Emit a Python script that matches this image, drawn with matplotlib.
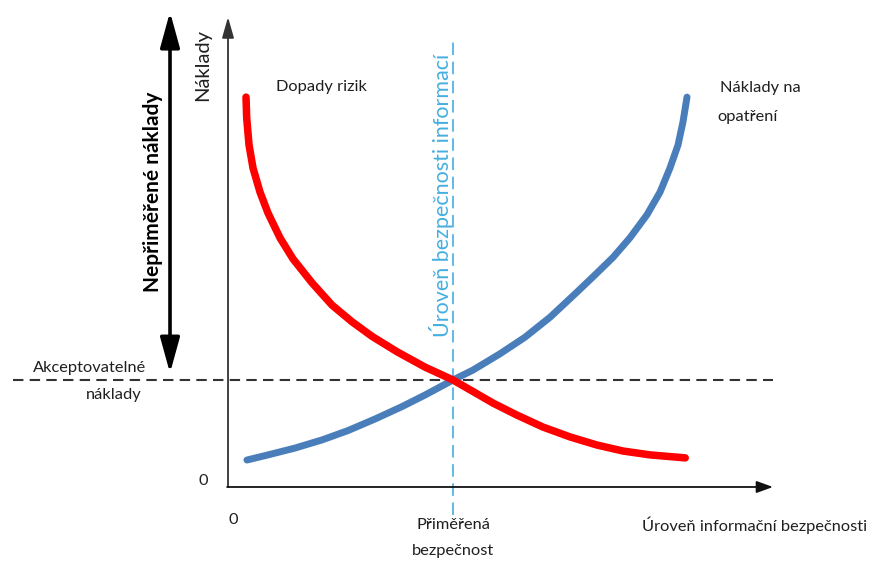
#!/usr/bin/env python

import matplotlib
matplotlib.use('Agg')
import matplotlib.pyplot as plt

################################################################################

# impact of risks (red) and cost of countermeasures (blue)
risk_x = [0.40, 0.415, 0.467, 0.556, 0.711, 0.889, 1.156, 1.444, 1.867, 2.311,
          2.756, 3.2, 3.756, 4.38, 5.0, 5.38, 5.89, 6.42, 7.0, 7.6, 8.2,
          8.78, 9.38, 10.16]
risk_y = [9.11, 8.62, 7.99, 7.45, 6.89, 6.40, 5.82, 5.33, 4.77, 4.25,
          3.86, 3.52, 3.16, 2.80, 2.5, 2.27, 1.96, 1.68, 1.40, 1.17, 0.98,
          0.84, 0.75, 0.68]

cost_x = [0.42, 0.89, 1.49, 2.09, 2.67, 3.27, 3.87, 4.38, 5.0, 5.44, 6.04,
          6.6, 7.16, 7.71, 8.11, 8.56, 8.93, 9.31, 9.6, 9.82, 10.0, 10.11,
          10.2]
cost_y = [0.63, 0.75, 0.91, 1.10, 1.32, 1.59, 1.88, 2.15, 2.5, 2.73, 3.11,
          3.50, 3.97, 4.51, 4.91, 5.37, 5.82, 6.36, 6.89, 7.45, 7.99, 8.53,
          9.11]

optimum_x = 5.0
acceptable_y = 2.5

################################################################################

text_c = '#1f1f1f'
cyan = '#45AEE0'
red = '#FF0000'
blue = '#4A7EBB'

plt.rcParams['font.family'] = ['Lato', 'DejaVu Sans']

fig = plt.figure(figsize=(8.69, 5.63), dpi=100)
ax = fig.add_axes([0, 0, 1, 1])
ax.set_xlim(-5.067, 14.244)
ax.set_ylim(-1.776, 11.379)
ax.axis('off')

# axes with arrow heads
ax.annotate('', xy=(0, 10.98), xytext=(0, 0),
            arrowprops=dict(arrowstyle='-|>,head_length=0.7,head_width=0.2',
                            lw=1.3, color='#333333', mutation_scale=18,
                            shrinkA=0, shrinkB=0))
ax.annotate('', xy=(12.11, 0), xytext=(-0.02, 0),
            arrowprops=dict(arrowstyle='-|>,head_length=0.55,head_width=0.2',
                            lw=1.3, color='#111111', mutation_scale=18,
                            shrinkA=0, shrinkB=0))

# "unreasonable cost" double arrow
ax.annotate('', xy=(-1.289, 11.1), xytext=(-1.289, 2.66),
            arrowprops=dict(arrowstyle='<|-|>,head_length=0.8,head_width=0.22',
                            lw=2.6, color='black', mutation_scale=27,
                            shrinkA=0, shrinkB=0))

ax.plot([-4.78, 12.11], [acceptable_y, acceptable_y], color='#333333',
        lw=1.5, dashes=(5, 3), zorder=1)
ax.plot([optimum_x, optimum_x], [-0.654, 10.44], color=cyan, lw=1.2,
        dashes=(7.5, 4), zorder=1)

ax.plot(cost_x, cost_y, color=blue, lw=5, solid_capstyle='round',
        solid_joinstyle='round', zorder=3)
ax.plot(risk_x, risk_y, color=red, lw=5.4, solid_capstyle='round',
        solid_joinstyle='round', zorder=4)

fs = 11.8
ax.text(-0.556, 9.85, 'Náklady', rotation=90, ha='center', va='center',
        fontsize=14.5, color=text_c)
ax.text(-1.667, 6.89, 'Nepřiměřené náklady', rotation=90, ha='center',
        va='center', fontsize=15, fontweight='bold', color='black')
ax.text(1.067, 9.35, 'Dopady rizik', ha='left', va='center', fontsize=fs,
        color=text_c)
ax.text(10.93, 9.32, 'Náklady na', ha='left', va='center', fontsize=fs,
        color=text_c)
ax.text(10.88, 8.64, 'opatření', ha='left', va='center', fontsize=fs,
        color=text_c)
ax.text(-1.822, 2.78, 'Akceptovatelné', ha='right', va='center',
        fontsize=fs, color=text_c)
ax.text(-1.91, 2.15, 'náklady', ha='right', va='center', fontsize=fs,
        color=text_c)
ax.text(-0.556, 0.14, '0', ha='center', va='center', fontsize=fs,
        color=text_c)
ax.text(0.11, -0.77, '0', ha='center', va='center', fontsize=fs,
        color=text_c)
ax.text(optimum_x, -0.888, 'Přiměřená', ha='center', va='center',
        fontsize=fs, color=text_c)
ax.text(optimum_x, -1.495, 'bezpečnost', ha='center', va='center',
        fontsize=fs, color=text_c)
ax.text(9.2, -0.888, 'Úroveň informační bezpečnosti', ha='left',
        va='center', fontsize=fs, color=text_c)
ax.text(4.733, 6.82, 'Úroveň bezpečnosti informací', rotation=90,
        ha='center', va='center', fontsize=15.5, color=cyan)

fig.savefig('out.png', dpi=100)
